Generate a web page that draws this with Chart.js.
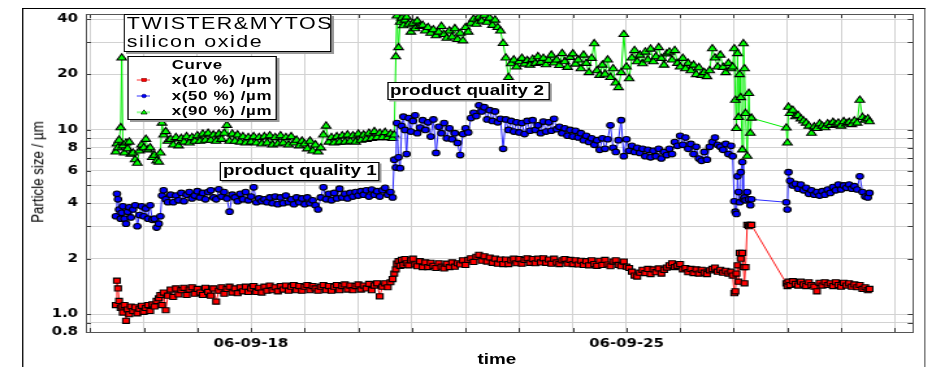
<!DOCTYPE html>
<html>
<head>
<meta charset="utf-8">
<script src="https://cdn.jsdelivr.net/npm/chart.js@4/dist/chart.umd.min.js"></script>
<style>
  html, body { margin: 0; padding: 0; background: #fff; overflow: hidden; }
  #page { position: relative; width: 932px; height: 367px; overflow: hidden; background: #fff; }
  /* the whole chart is laid out on a narrower stage and widened horizontally */
  #stage { position: absolute; left: 0; top: 0; width: 717px; height: 367px;
           transform: scaleX(1.29986); transform-origin: 0 0; }
  #frame { position: absolute; left: 16.9px; top: 8px; width: 695px; height: 420px; box-sizing: border-box;
           border-left: 1px solid #000; border-top: 1px solid #000; border-right: 1.5px solid #6a6a6a; }
  #plot { position: absolute; left: 0; top: 0; }
  .txt { position: absolute; white-space: nowrap; color: #000;
         font-family: "Liberation Sans", Arial, sans-serif; }
  .box { position: absolute; box-sizing: border-box; background: #fff; border: 1px solid #000;
         box-shadow: 2px 2px 0 #9a9a9a; }
  .big { font-size: 16.5px; line-height: 16.5px; letter-spacing: 1.15px; }
  .leg { font-size: 13px; line-height: 13px; font-weight: bold; letter-spacing: 0.5px; }
  .pq  { font-size: 14.5px; line-height: 14.5px; font-weight: bold; letter-spacing: 0.1px; }
</style>
</head>
<body>
<div id="page">
  <div id="stage">
    <div id="frame"></div>
    <canvas id="plot" width="717" height="367"></canvas>

    <!-- product / material note -->
    <div class="box" style="left:95.4px; top:13.5px; width:159.8px; height:38.5px;"></div>
    <div class="txt big" style="left:97.6px; top:15px;">TWISTER&amp;MYTOS</div>
    <div class="txt big" style="left:97.6px; top:32.7px;">silicon oxide</div>

    <!-- legend -->
    <div class="box" style="left:97.9px; top:55.7px; width:114.9px; height:64.3px;"></div>
    <div class="txt leg" style="left:132.1px; top:57.7px;">Curve</div>
    <div class="txt leg" style="left:132.1px; top:73px;">x(10 %) /µm</div>
    <div class="txt leg" style="left:132.1px; top:88.5px;">x(50 %) /µm</div>
    <div class="txt leg" style="left:132.1px; top:104px;">x(90 %) /µm</div>
    <svg style="position:absolute; left:100px; top:72px;" width="20" height="48" viewBox="0 0 20 48">
      <line x1="5.2" y1="8" x2="15.4" y2="8" stroke="#ff9a9a" stroke-width="2"/>
      <rect x="9.1" y="6.4" width="3.4" height="3.2" fill="#ff0000" stroke="#700" stroke-width="0.5"/>
      <line x1="5.2" y1="24" x2="15.4" y2="24" stroke="#9a9aff" stroke-width="2"/>
      <circle cx="10.8" cy="24" r="1.8" fill="#0000ff" stroke="#000060" stroke-width="0.5"/>
      <line x1="5.2" y1="40.3" x2="15.4" y2="40.3" stroke="#9aff9a" stroke-width="2"/>
      <polygon points="10.8,37.8 13.2,42 8.4,42" fill="#00ff00" stroke="#000" stroke-width="0.6"/>
    </svg>

    <!-- grade markers -->
    <div class="box" style="left:168.5px; top:162.3px; width:123.8px; height:18.4px; box-shadow:1.5px 1.5px 0 #9a9a9a;"></div>
    <div class="txt pq" style="left:171.5px; top:163.1px;">product quality 1</div>
    <div class="box" style="left:297.5px; top:82px; width:125.1px; height:18.3px; box-shadow:1.5px 1.5px 0 #9a9a9a;"></div>
    <div class="txt pq" style="left:300px; top:83.1px;">product quality 2</div>

    <!-- axis titles -->
    <div class="txt" style="left:28.5px; top:172px; font-size:13.3px; line-height:14px;
         transform:translate(-50%,-50%) rotate(-90deg);">Particle size / µm</div>
    <div class="txt" style="left:382.3px; top:351.7px; font-size:14.5px; line-height:14.5px; font-weight:bold;
         transform:translateX(-50%);">time</div>
  </div>
</div>

<script>
// sample times, in days of September 2006
const times = [
  15.48,15.50,15.52,15.54,15.57,15.59,15.61,15.64,15.67,15.70,
  15.73,15.76,15.80,15.84,15.88,15.92,15.96,16.00,16.04,16.08,
  16.12,16.16,16.20,16.24,16.28,16.31,16.34,16.37,16.41,16.45,
  16.50,16.55,16.60,16.65,16.70,16.75,16.80,16.85,16.90,16.95,
  17.00,17.05,17.10,17.15,17.20,17.25,17.30,17.35,17.40,17.45,
  17.50,17.55,17.60,17.65,17.70,17.75,17.80,17.85,17.90,17.95,
  18.00,18.05,18.10,18.15,18.20,18.25,18.30,18.35,18.40,18.45,
  18.50,18.55,18.60,18.65,18.70,18.75,18.80,18.85,18.90,18.95,
  19.00,19.05,19.10,19.15,19.20,19.25,19.30,19.35,19.40,19.45,
  19.50,19.55,19.60,19.65,19.70,19.75,19.80,19.85,19.90,19.95,
  20.00,20.05,20.10,20.15,20.20,20.25,20.30,20.35,20.40,20.45,
  20.50,20.55,20.60,20.64,20.67,20.70,20.72,20.75,20.78,20.81,
  20.84,20.87,20.90,20.94,20.98,21.02,21.06,21.10,21.15,21.20,
  21.25,21.30,21.35,21.40,21.45,21.50,21.55,21.60,21.65,21.70,
  21.75,21.80,21.85,21.90,21.95,22.00,22.05,22.10,22.15,22.20,
  22.25,22.30,22.35,22.40,22.45,22.50,22.55,22.60,22.65,22.70,
  22.75,22.80,22.85,22.90,22.95,23.00,23.05,23.10,23.15,23.20,
  23.25,23.30,23.35,23.40,23.45,23.50,23.55,23.60,23.65,23.70,
  23.75,23.80,23.85,23.90,23.95,24.00,24.05,24.10,24.15,24.20,
  24.25,24.30,24.35,24.40,24.45,24.50,24.55,24.60,24.65,24.70,
  24.75,24.80,24.85,24.90,24.95,25.00,25.05,25.10,25.15,25.20,
  25.25,25.30,25.35,25.40,25.45,25.50,25.55,25.60,25.65,25.70,
  25.75,25.80,25.85,25.90,25.95,26.00,26.05,26.10,26.15,26.20,
  26.25,26.30,26.35,26.40,26.45,26.50,26.55,26.60,26.65,26.70,
  26.75,26.80,26.85,26.90,26.95,26.98,27.01,27.03,27.05,27.07,
  27.09,27.11,27.13,27.16,27.18,27.20,27.22,27.25,27.28,27.31,
  27.33,27.98,28.00,28.02,28.05,28.10,28.15,28.20,28.25,28.30,
  28.35,28.40,28.45,28.50,28.55,28.60,28.65,28.70,28.75,28.80,
  28.85,28.90,28.95,29.00,29.05,29.10,29.15,29.20,29.25,29.30,
  29.35,29.40,29.45,29.50,29.53
];

// x(10 %) in µm
const x10 = [
  1.12,1.52,1.38,1.18,1.08,1.10,1.02,1.12,0.92,1.06,
  1.00,1.10,1.04,1.09,1.01,1.07,1.11,1.03,1.08,1.12,
  1.04,1.13,1.10,1.18,1.22,1.27,1.12,1.31,1.05,1.26,
  1.36,1.24,1.38,1.28,1.35,1.39,1.27,1.36,1.40,1.29,
  1.37,1.31,1.27,1.39,1.32,1.26,1.38,1.17,1.34,1.40,
  1.29,1.37,1.41,1.31,1.38,1.30,1.40,1.33,1.41,1.32,
  1.38,1.42,1.32,1.39,1.31,1.41,1.34,1.43,1.35,1.40,
  1.33,1.42,1.36,1.43,1.34,1.41,1.44,1.35,1.42,1.34,
  1.41,1.44,1.35,1.42,1.38,1.34,1.41,1.44,1.35,1.42,
  1.34,1.41,1.44,1.35,1.42,1.45,1.36,1.43,1.35,1.42,
  1.45,1.36,1.43,1.38,1.46,1.35,1.43,1.47,1.25,1.41,
  1.47,1.40,1.49,1.55,1.66,1.75,1.88,1.94,1.83,1.97,
  1.85,1.99,1.89,1.84,1.96,2.00,1.86,1.82,1.94,1.80,
  1.91,1.80,1.90,1.83,1.78,1.89,1.81,1.77,1.88,1.80,
  1.91,1.81,1.89,1.86,1.96,1.85,1.97,2.01,1.92,2.05,
  2.10,1.95,2.06,1.93,2.03,1.90,2.00,1.88,1.98,1.87,
  1.98,1.87,1.96,2.00,1.89,1.99,1.88,1.97,2.01,1.90,
  1.99,1.89,2.00,1.91,2.01,1.90,1.98,1.88,2.00,1.91,
  1.87,1.96,1.99,1.88,1.97,1.87,1.96,1.86,1.95,1.85,
  1.94,1.84,1.96,1.87,1.83,1.95,1.85,1.97,1.86,1.82,
  1.93,1.96,1.85,1.82,1.93,1.81,1.78,1.70,1.62,1.60,
  1.68,1.74,1.67,1.76,1.65,1.75,1.69,1.77,1.66,1.74,
  1.79,1.84,1.89,1.80,1.83,1.87,1.75,1.78,1.69,1.76,
  1.67,1.75,1.66,1.74,1.68,1.65,1.73,1.76,1.79,1.70,
  1.74,1.68,1.72,1.66,1.70,1.62,1.30,1.33,1.66,1.84,
  1.50,2.15,2.00,2.15,1.80,1.47,1.80,3.05,3.00,3.05,
  3.05,1.47,1.42,1.50,1.44,1.51,1.46,1.43,1.50,1.45,
  1.42,1.49,1.44,1.41,1.33,1.48,1.43,1.49,1.44,1.47,
  1.42,1.49,1.44,1.41,1.48,1.43,1.47,1.41,1.45,1.40,
  1.44,1.37,1.40,1.35,1.37
];

// x(50 %) in µm
const x50 = [
  3.40,4.50,4.20,3.70,3.30,3.55,3.85,3.30,3.10,3.60,
  3.80,3.35,3.70,3.90,3.00,3.45,3.85,3.40,3.75,3.30,
  3.90,3.25,3.30,2.95,3.10,3.40,4.40,4.70,4.20,4.05,
  4.45,4.05,4.40,4.15,4.55,4.10,4.45,4.60,4.25,4.40,
  4.65,4.30,4.55,4.20,4.60,4.70,4.30,4.20,4.76,4.35,
  4.60,4.25,3.60,4.45,4.30,4.10,4.50,4.20,4.60,4.15,
  4.35,4.88,4.05,4.25,4.10,4.20,4.05,4.30,4.00,4.35,
  3.95,4.30,4.00,4.40,4.05,4.20,3.95,4.30,4.05,4.25,
  3.95,4.30,4.00,4.15,3.90,3.70,4.30,4.88,4.20,4.50,
  4.15,4.55,4.25,4.80,4.30,4.50,4.25,4.55,4.35,4.60,
  4.40,4.65,4.45,4.70,4.35,4.75,4.45,4.65,4.35,4.70,
  4.85,4.45,4.60,4.30,6.90,6.25,10.9,7.10,6.20,10.5,
  11.8,10.0,7.40,11.6,9.8,11.2,12.0,9.6,10.3,11.3,
  10.0,11.0,9.2,11.4,7.50,10.4,9.6,10.9,9.0,10.2,
  8.9,9.6,8.5,7.30,9.5,10.2,9.7,11.6,12.4,11.9,
  13.6,12.6,13.3,11.4,12.8,11.2,12.6,11.0,11.5,7.90,
  11.4,10.0,11.2,9.8,11.0,9.7,10.9,9.5,11.2,9.9,
  11.3,10.0,10.6,9.6,11.1,9.8,11.0,9.9,11.5,10.1,
  10.4,9.6,10.2,9.3,10.0,9.2,9.9,9.1,9.6,8.8,
  9.3,8.6,9.0,8.3,8.8,7.8,9.0,7.9,8.9,10.6,
  8.0,7.6,8.8,11.3,7.2,8.9,7.7,8.2,7.6,8.0,
  7.5,7.9,7.2,7.8,7.1,7.7,7.2,7.9,7.0,7.6,
  7.3,7.9,7.4,8.6,8.2,9.3,8.3,9.1,7.9,8.4,
  7.4,8.1,7.0,6.8,7.6,6.9,8.1,8.6,9.1,8.3,
  8.1,7.8,8.4,7.4,8.2,7.2,4.10,3.60,3.50,5.60,
  4.60,4.05,5.90,6.70,4.20,4.30,4.15,4.60,4.20,3.90,
  4.20,4.05,3.70,5.90,5.30,5.00,5.10,4.80,5.05,4.70,
  4.85,4.50,4.70,4.45,4.60,4.40,4.65,4.45,4.75,4.55,
  4.90,4.70,5.05,4.75,5.00,4.85,5.05,4.80,4.95,4.75,
  5.60,4.60,4.35,4.30,4.55
];

// x(90 %) in µm
const x90 = [
  7.6,8.4,8.0,8.8,10.3,24.6,8.2,7.5,8.5,7.9,
  8.6,7.4,7.5,6.9,6.6,7.7,8.3,8.0,8.9,7.8,
  8.0,7.1,7.3,6.8,6.7,7.5,10.9,9.4,9.8,8.7,
  8.9,8.3,9.1,8.2,9.0,8.6,9.2,8.5,9.1,8.7,
  9.3,8.7,9.5,8.8,9.6,8.8,9.4,8.7,9.5,8.9,
  9.6,10.6,8.7,9.5,8.7,9.4,8.6,9.2,8.5,9.1,
  8.6,9.2,8.5,9.1,8.4,9.2,8.5,9.3,8.3,9.1,
  8.4,9.3,8.5,9.1,8.3,9.2,8.5,8.8,8.2,8.7,
  8.4,7.9,8.7,7.7,8.3,7.6,8.0,9.4,10.5,8.6,
  9.1,8.5,9.2,8.6,9.3,8.6,9.4,8.7,9.3,8.6,
  9.5,8.8,9.4,8.9,9.6,9.0,9.8,9.1,9.6,9.1,
  9.7,9.1,9.5,9.0,9.4,25.0,41.6,28.0,38.5,40.5,
  36.8,39.5,41.0,37.5,34.0,38.0,35.5,39.0,36.5,37.0,
  34.5,36.0,33.5,35.0,32.5,34.0,36.5,33.0,31.5,34.5,
  32.0,35.5,31.0,33.5,30.5,36.0,34.0,38.0,40.0,37.5,
  41.0,39.0,42.0,38.5,40.5,37.0,39.5,36.0,34.5,29.5,
  24.6,19.3,22.9,24.0,22.0,23.5,24.5,22.8,23.8,22.5,
  24.2,23.0,25.0,23.3,24.5,22.6,23.9,25.5,23.1,24.0,
  22.4,26.0,23.5,21.9,24.8,25.9,22.8,24.0,21.5,25.5,
  23.0,20.5,24.5,29.4,21.0,19.8,22.5,20.1,24.0,19.3,
  21.5,18.0,17.0,20.5,33.0,22.0,19.0,24.6,27.0,23.5,
  25.5,22.9,26.5,24.0,27.5,23.5,25.0,28.0,24.5,22.5,
  25.9,26.5,24.0,27.0,23.0,22.0,24.5,21.5,23.0,21.0,
  22.5,20.0,21.8,19.8,20.5,19.5,21.0,27.6,24.6,22.0,
  25.5,21.9,20.5,23.0,21.5,22.0,27.6,14.5,10.2,26.0,
  11.7,20.0,15.0,7.8,29.4,21.5,12.3,7.2,15.8,9.6,
  11.6,10.25,8.5,13.3,12.3,12.8,11.8,12.0,11.5,11.2,
  10.9,10.5,9.6,10.4,10.2,10.8,10.5,10.3,10.8,10.6,
  11.0,10.7,10.9,10.5,11.1,10.8,11.0,10.7,11.2,10.9,
  14.5,11.7,11.3,11.5,11.1
];

// axis ticks
const xDayTicks = [15,16,17,18,19,20,21,22,23,24,25,26,27,28,29,30];
const xLabelDays = [18, 25];
const xLabelTexts = ['06-09-18', '06-09-25'];
const yGridValues = [0.8,0.9,1,2,3,4,5,6,7,8,9,10,20,30,40];
const yLabelValues = [0.8, 1, 2, 4, 6, 8, 10, 20, 40];
const yLabelTexts = ['0.8', '1.0', '2', '4', '6', '8', '10', '20', '40'];

function points(values) {
  return times.map((t, i) => ({ x: t, y: values[i] }));
}

// plot frame plus short inward tick marks on all four sides
const frameTicks = {
  id: 'frameTicks',
  afterDraw(chart) {
    const { ctx, chartArea: a } = chart;
    const xs = chart.scales.x, ys = chart.scales.y;
    ctx.save();
    ctx.strokeStyle = '#3a3a3a';
    ctx.lineWidth = 1;
    ctx.beginPath();
    ys.ticks.forEach(t => {
      const p = Math.round(ys.getPixelForValue(t.value)) + 0.5;
      ctx.moveTo(a.left, p); ctx.lineTo(a.left + 4, p);
      ctx.moveTo(a.right, p); ctx.lineTo(a.right - 4, p);
    });
    xs.ticks.forEach(t => {
      const p = Math.round(xs.getPixelForValue(t.value)) + 0.5;
      ctx.moveTo(p, a.bottom); ctx.lineTo(p, a.bottom - 4);
      ctx.moveTo(p, a.top); ctx.lineTo(p, a.top + 4);
    });
    ctx.stroke();
    ctx.strokeStyle = '#555';
    ctx.strokeRect(Math.round(a.left) + 0.5, Math.round(a.top) + 0.5,
                   Math.round(a.right - a.left), Math.round(a.bottom - a.top));
    ctx.restore();
  }
};

const tickFont = { family: 'DejaVu Sans', weight: 'bold', size: 11.5 };
const gridStyle = { color: '#d2d2d2', lineWidth: 1, drawTicks: false };

new Chart(document.getElementById('plot'), {
  type: 'line',
  data: {
    datasets: [
      { label: 'x(10 %) /µm', data: points(x10), borderColor: '#ff1a1a', borderWidth: 1,
        pointStyle: 'rect', pointRadius: 3.6, pointBackgroundColor: '#ff0000',
        pointBorderColor: '#000', pointBorderWidth: 1.1, tension: 0 },
      { label: 'x(50 %) /µm', data: points(x50), borderColor: '#2a2aff', borderWidth: 1,
        pointStyle: 'circle', pointRadius: 2.8, pointBackgroundColor: '#0000ff',
        pointBorderColor: '#000', pointBorderWidth: 1.1, tension: 0 },
      { label: 'x(90 %) /µm', data: points(x90), borderColor: '#00ee00', borderWidth: 1,
        pointStyle: 'triangle', pointRadius: 4.2, pointBackgroundColor: '#00ff00',
        pointBorderColor: '#000', pointBorderWidth: 1.1, tension: 0 }
    ]
  },
  options: {
    responsive: false,
    animation: false,
    devicePixelRatio: 1,
    events: [],
    layout: { padding: { left: 0, top: 14, right: 14.7, bottom: 0 } },
    plugins: { legend: { display: false }, tooltip: { enabled: false } },
    scales: {
      x: {
        type: 'linear', min: 14.92, max: 30.34,
        afterBuildTicks: s => { s.ticks = xDayTicks.map(v => ({ value: v })); },
        afterFit: s => { s.height = 35; },
        ticks: {
          autoSkip: false, maxRotation: 0, padding: 5, color: '#000', font: tickFont,
          callback: v => { const i = xLabelDays.indexOf(v); return i >= 0 ? xLabelTexts[i] : ''; }
        },
        grid: gridStyle,
        border: { display: false }
      },
      y: {
        type: 'logarithmic', min: 0.8, max: 42.6,
        afterBuildTicks: s => { s.ticks = yGridValues.map(v => ({ value: v })); },
        afterFit: s => { s.width = 66; },
        ticks: {
          autoSkip: false, padding: 6, color: '#000', font: tickFont,
          callback: v => { const i = yLabelValues.indexOf(v); return i >= 0 ? yLabelTexts[i] : ''; }
        },
        grid: gridStyle,
        border: { display: false }
      }
    }
  },
  plugins: [frameTicks]
});
</script>
</body>
</html>
